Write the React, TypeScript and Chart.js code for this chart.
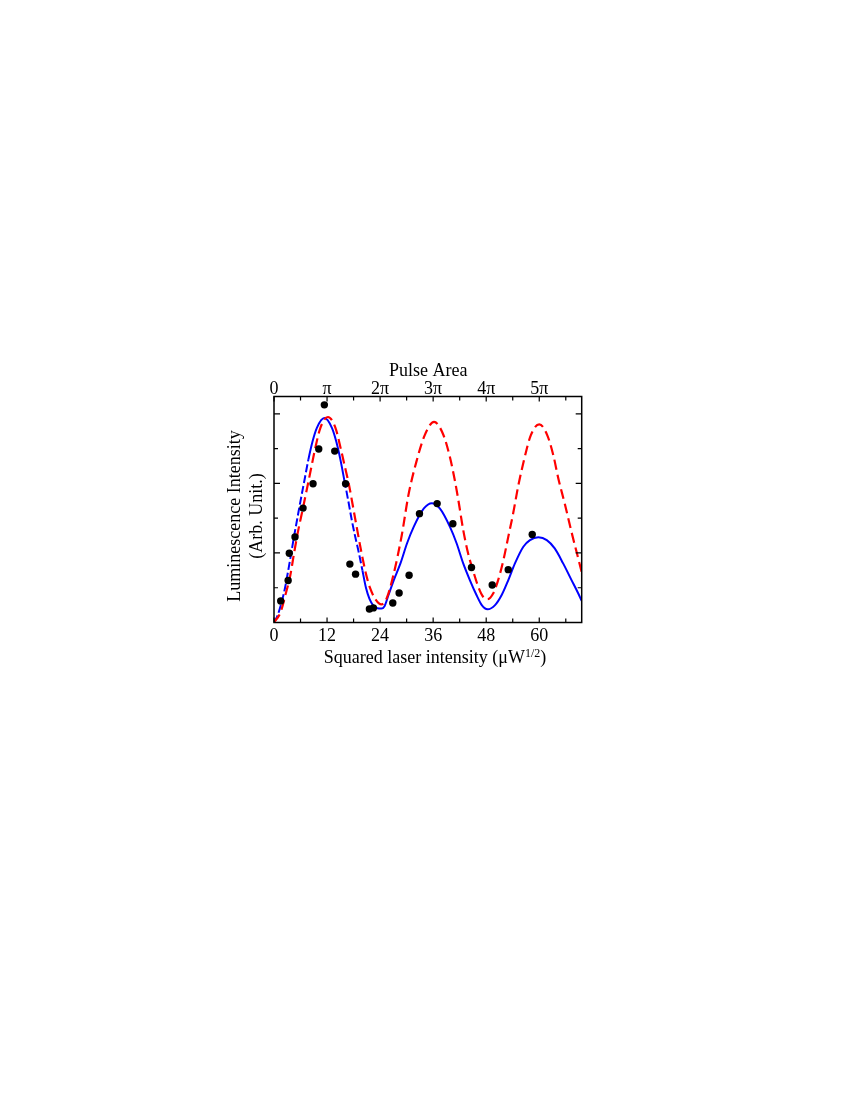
import React, { useEffect, useRef } from 'react';
import { Chart, registerables } from 'chart.js';

Chart.register(...registerables);

// Axis ticks / labels
const xTickValues = [0, 12, 24, 36, 48, 60];
const xMinorTickValues = [6, 18, 30, 42, 54, 66];
const topTickLabels = ['0', 'π', '2π', '3π', '4π', '5π'];
const yTickValues = [1, 2, 3, 4, 5, 6];
const xMin = 0;
const xMax = 69.6;
const yMin = 0;
const yMax = 6.5;

// Measured luminescence (black dots)
const dotX = [1.52, 3.2, 3.46, 4.75, 6.57, 8.83, 10.12, 11.39, 13.74, 16.19, 17.16, 18.45, 21.58, 22.48, 26.87, 28.3, 30.56, 32.9, 36.9, 40.46, 44.67, 49.36, 52.98, 58.41];
const dotY = [0.62, 1.21, 1.99, 2.46, 3.29, 3.99, 4.99, 6.26, 4.93, 3.99, 1.68, 1.39, 0.39, 0.42, 0.56, 0.85, 1.36, 3.13, 3.42, 2.84, 1.58, 1.08, 1.52, 2.53];

// Damped model (blue)
const blueX = [0, 0.8, 1.8, 2.5, 2.94, 3.84, 4.5, 5.2, 6.0, 6.9, 7.8, 8.7, 9.7, 11.4, 13.1, 14.1, 15.0, 15.9, 16.8, 17.6, 18.4, 19.2, 20.0, 20.8, 21.6, 22.5, 23.4, 24.3, 25.0, 25.9, 27.1, 28.6, 30.1, 31.6, 33.9, 35.7, 37.5, 39.8, 41.3, 42.8, 44.3, 45.8, 47.0, 48.3, 50.0, 51.5, 53.0, 54.5, 56.4, 57.9, 59.8, 61.7, 63.5, 65.4, 67.3, 68.8, 69.6];
const blueY = [0, 0.2, 0.62, 1.0, 1.3, 1.95, 2.45, 2.94, 3.5, 4.1, 4.7, 5.2, 5.6, 5.88, 5.6, 5.2, 4.7, 4.1, 3.5, 2.94, 2.45, 2.0, 1.5, 1.0, 0.68, 0.48, 0.41, 0.4, 0.47, 0.79, 1.22, 1.70, 2.28, 2.75, 3.28, 3.43, 3.28, 2.75, 2.28, 1.70, 1.22, 0.79, 0.50, 0.38, 0.5, 0.79, 1.22, 1.70, 2.18, 2.37, 2.45, 2.37, 2.13, 1.70, 1.22, 0.84, 0.62];
const blueDashedRanges = [[0, 7.4], [15.8, 19.8]];

// Undamped model (red dashed)
const redX = [0, 1.5, 2.8, 3.6, 4.55, 5.4, 6.4, 7.7, 8.5, 9.3, 10.5, 12.2, 13.9, 15.1, 16.0, 16.9, 18.2, 19.8, 20.8, 21.7, 23.0, 24.3, 25.5, 27.0, 28.9, 30.4, 32.2, 34.1, 36.2, 38.3, 39.8, 40.9, 41.7, 42.8, 43.9, 45.1, 46.2, 47.3, 48.3, 49.6, 50.7, 51.9, 53.0, 54.1, 55.2, 56.6, 58.1, 60.0, 61.8, 63.2, 64.3, 65.8, 67.3, 68.8, 69.6];
const redY = [0, 0.3, 0.9, 1.3, 2.0, 2.6, 3.2, 4.0, 4.5, 5.0, 5.6, 5.91, 5.6, 5.0, 4.5, 4.0, 3.1, 2.0, 1.4, 1.0, 0.66, 0.52, 0.7, 1.36, 2.51, 3.66, 4.62, 5.39, 5.77, 5.4, 4.75, 4.09, 3.52, 2.66, 1.99, 1.46, 1.03, 0.74, 0.67, 0.84, 1.22, 1.80, 2.47, 3.14, 3.90, 4.7, 5.39, 5.7, 5.39, 4.8, 4.15, 3.4, 2.6, 1.85, 1.45];

const FONT = '"Liberation Serif", "Times New Roman", serif';

const framePlugin = {
  id: 'frameAndTitles',
  afterDraw(chart: any) {
    const { ctx, chartArea: a, scales } = chart;
    const xs = scales.x;
    const ys = scales.y;
    ctx.save();
    ctx.strokeStyle = '#000';
    ctx.lineWidth = 1.5;
    ctx.strokeRect(a.left, a.top, a.right - a.left, a.bottom - a.top);
    ctx.lineWidth = 1.2;
    ctx.beginPath();
    for (const v of [...xTickValues, ...xMinorTickValues]) {
      const px = xs.getPixelForValue(v);
      const len = xTickValues.includes(v) ? 5 : 4;
      ctx.moveTo(px, a.bottom);
      ctx.lineTo(px, a.bottom - len);
      ctx.moveTo(px, a.top);
      ctx.lineTo(px, a.top + len);
    }
    for (const v of yTickValues) {
      const py = ys.getPixelForValue(v);
      const len = v % 2 === 0 ? 6 : 4;
      ctx.moveTo(a.left, py);
      ctx.lineTo(a.left + len, py);
      ctx.moveTo(a.right, py);
      ctx.lineTo(a.right - len, py);
    }
    ctx.stroke();

    ctx.fillStyle = '#000';
    ctx.textBaseline = 'alphabetic';
    // top title
    ctx.font = `18px ${FONT}`;
    ctx.textAlign = 'center';
    ctx.fillText('Pulse Area', 428.3, a.top - 20.5);

    // bottom title with superscript
    const main = 'Squared laser intensity (μW';
    const sup = '1/2';
    const close = ')';
    ctx.font = `18px ${FONT}`;
    const wMain = ctx.measureText(main).width;
    const wClose = ctx.measureText(close).width;
    ctx.font = `12px ${FONT}`;
    const wSup = ctx.measureText(sup).width;
    const total = wMain + wSup + wClose;
    const x0 = 435 - total / 2;
    const base = a.bottom + 40.5;
    ctx.textAlign = 'left';
    ctx.font = `18px ${FONT}`;
    ctx.fillText(main, x0, base);
    ctx.font = `12px ${FONT}`;
    ctx.fillText(sup, x0 + wMain, base - 6.5);
    ctx.font = `18px ${FONT}`;
    ctx.fillText(close, x0 + wMain + wSup, base);

    // left title (two rotated lines)
    const yc = (a.top + a.bottom) / 2 + 6.5;
    ctx.textAlign = 'center';
    const lines = ['Luminescence Intensity', '(Arb. Unit.)'];
    const baselines = [a.left - 34.5, a.left - 12.5];
    lines.forEach((t, i) => {
      ctx.save();
      ctx.translate(baselines[i], yc);
      ctx.rotate(-Math.PI / 2);
      ctx.fillText(t, 0, 0);
      ctx.restore();
    });
    ctx.restore();
  },
};

export default function App() {
  const ref = useRef<HTMLCanvasElement | null>(null);

  useEffect(() => {
    if (!ref.current) return;
    const inDash = (x: number) => blueDashedRanges.some(([s, e]) => x >= s && x < e);
    const chart = new Chart(ref.current, {
      type: 'line',
      data: {
        datasets: [
          {
            label: 'Data',
            data: dotX.map((x, i) => ({ x, y: dotY[i] })),
            showLine: false,
            pointRadius: 3.7,
            pointBackgroundColor: '#000',
            pointBorderWidth: 0,
            borderColor: '#000',
            order: 0,
          },
          {
            label: 'Undamped',
            data: redX.map((x, i) => ({ x, y: redY[i] })),
            borderColor: '#ff0000',
            borderWidth: 2.2,
            borderDash: [10, 5],
            pointRadius: 0,
            cubicInterpolationMode: 'monotone',
            fill: false,
            order: 1,
          },
          {
            label: 'Damped',
            data: blueX.map((x, i) => ({ x, y: blueY[i] })),
            borderColor: '#0000ff',
            borderWidth: 2,
            pointRadius: 0,
            cubicInterpolationMode: 'monotone',
            fill: false,
            segment: {
              borderDash: (ctx: any) => (inDash(ctx.p0.parsed.x) ? [8, 3] : undefined),
            },
            order: 2,
          },
        ],
      },
      options: {
        responsive: false,
        animation: false,
        devicePixelRatio: 1,
        layout: {
          padding: { left: 274, right: 850 - 581.7, top: 396.5 - 40, bottom: 1100 - 622.5 - 40 },
        },
        plugins: {
          legend: { display: false },
          tooltip: { enabled: false },
        },
        scales: {
          x: {
            type: 'linear',
            position: 'bottom',
            min: xMin,
            max: xMax,
            grid: { display: false },
            border: { display: false },
            afterBuildTicks: (s: any) => {
              s.ticks = xTickValues.map((v) => ({ value: v }));
            },
            afterFit: (s: any) => {
              s.height = 40;
            },
            ticks: {
              padding: -5,
              color: '#000',
              maxRotation: 0,
              font: { family: FONT, size: 18 },
              callback: (v: any) => String(v),
            },
          },
          x2: {
            type: 'linear',
            position: 'top',
            min: xMin,
            max: xMax,
            grid: { display: false },
            border: { display: false },
            afterBuildTicks: (s: any) => {
              s.ticks = xTickValues.map((v) => ({ value: v }));
            },
            afterFit: (s: any) => {
              s.height = 40;
            },
            ticks: {
              padding: -12,
              color: '#000',
              maxRotation: 0,
              font: { family: FONT, size: 18 },
              callback: (_v: any, i: number) => topTickLabels[i],
            },
          },
          y: {
            type: 'linear',
            min: yMin,
            max: yMax,
            display: false,
          },
        },
      },
      plugins: [framePlugin],
    });
    return () => chart.destroy();
  }, []);

  return (
    <div style={{ position: 'absolute', left: 0, top: 0, width: 850, height: 1100, background: '#fff' }}>
      <canvas ref={ref} width={850} height={1100} />
    </div>
  );
}
